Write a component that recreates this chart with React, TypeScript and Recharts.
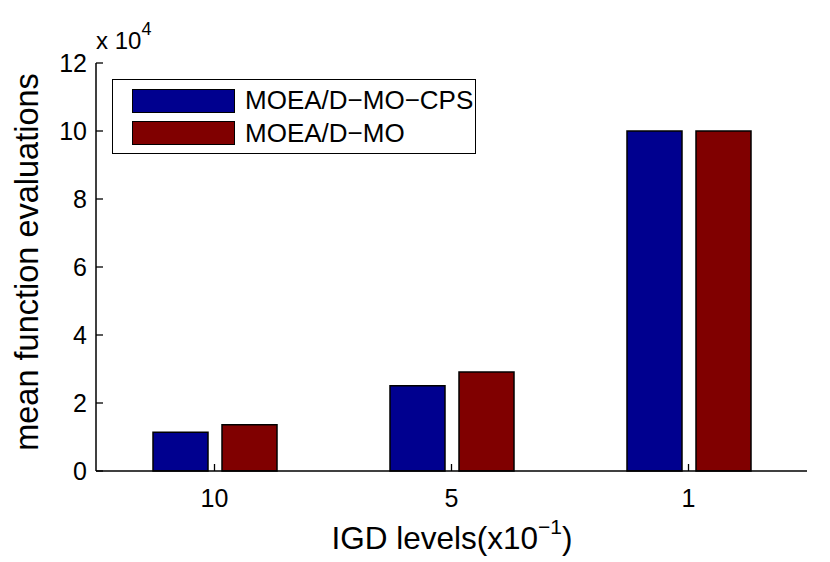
import React from "react";
import { BarChart, Bar, XAxis, YAxis, Legend, Label } from "recharts";

const levels = ["10", "5", "1"];
const cpsValues = [11400, 25100, 100000];
const moValues = [13600, 29100, 100000];
const yTicks = [0, 20000, 40000, 60000, 80000, 100000, 120000];
const seriesNames = ["MOEA/D-MO-CPS", "MOEA/D-MO"];
const seriesColors = ["#00008F", "#800000"];

const data = levels.map((level, i) => ({ level, cps: cpsValues[i], mo: moValues[i] }));

const FONT = "'Liberation Sans', Arial, Helvetica, sans-serif";
const TICK_LEN = 7;

const LeftTick = (props: any) => {
  const { x, y, payload } = props;
  return (
    <g>
      <line x1={x} x2={x + TICK_LEN} y1={y} y2={y} stroke="#000" strokeWidth={1.3} />
      <text x={x - 9} y={y} dy={9} textAnchor="end" fontSize={25} fontFamily={FONT} fill="#000">
        {String(payload.value / 10000)}
      </text>
    </g>
  );
};

const RightTick = (props: any) => {
  const { x, y } = props;
  return <line x1={x} x2={x - TICK_LEN} y1={y} y2={y} stroke="#000" strokeWidth={1.3} />;
};

const BottomTick = (props: any) => {
  const { x, y, payload } = props;
  return (
    <g>
      <line x1={x} x2={x} y1={y} y2={y - TICK_LEN} stroke="#000" strokeWidth={1.3} />
      <text x={x} y={y + 36} textAnchor="middle" fontSize={25} fontFamily={FONT} fill="#000">
        {payload.value}
      </text>
    </g>
  );
};

const TopTick = (props: any) => {
  const { x, y } = props;
  return <line x1={x} x2={x} y1={y} y2={y + TICK_LEN} stroke="#000" strokeWidth={1.3} />;
};

const LegendBox = () => (
  <div
    style={{
      width: 362,
      height: 73,
      border: "1.5px solid #000",
      background: "#fff",
      position: "relative",
      fontFamily: FONT,
      boxSizing: "content-box",
    }}
  >
    {seriesNames.map((name, i) => (
      <div key={name} style={{ position: "absolute", left: 19, top: 8 + i * 32.5, display: "flex", alignItems: "center" }}>
        <div
          style={{
            width: 101,
            height: 22,
            background: seriesColors[i],
            border: "1.5px solid #000",
            boxSizing: "content-box",
          }}
        />
        <span style={{ marginLeft: 10, fontSize: 26, lineHeight: "25px", color: "#000", whiteSpace: "nowrap" }}>
          {name.replace(/-/g, "\u2212")}
        </span>
      </div>
    ))}
  </div>
);

export default function App() {
  return (
    <div style={{ position: "absolute", left: 0, top: 0, width: 830, height: 562, background: "#fff" }}>
      <BarChart
        width={830}
        height={562}
        data={data}
        margin={{ top: 63, right: 23, bottom: 0, left: 0 }}
        barSize={55}
        barGap={14}
      >
        <XAxis
          dataKey="level"
          type="category"
          height={91}
          tickSize={0}
          tickMargin={0}
          tickLine={false}
          axisLine={{ stroke: "#000", strokeWidth: 1.5 }}
          tick={<BottomTick />}
          interval={0}
        >
          <Label
            content={() => (
              <text x={452} y={549} textAnchor="middle" fontSize={31.5} fontFamily={FONT} fill="#000">
                IGD levels(x10
                <tspan fontSize={21} dy={-15}>{"\u22121"}</tspan>
                <tspan dy={15}>)</tspan>
              </text>
            )}
          />
        </XAxis>
        <XAxis
          xAxisId="top"
          dataKey="level"
          type="category"
          orientation="top"
          height={0}
          tickSize={0}
          tickMargin={0}
          tickLine={false}
          axisLine={{ stroke: "#000", strokeWidth: 1.5 }}
          tick={<TopTick />}
          interval={0}
        />
        <YAxis
          width={96}
          type="number"
          domain={[0, 120000]}
          ticks={yTicks}
          tickSize={0}
          tickMargin={0}
          tickLine={false}
          axisLine={{ stroke: "#000", strokeWidth: 1.5 }}
          tick={<LeftTick />}
          interval={0}
        >
          <Label
            content={() => (
              <g>
                <text
                  x={38}
                  y={262}
                  transform="rotate(-90, 38, 262)"
                  textAnchor="middle"
                  fontSize={32.5}
                  fontFamily={FONT}
                  fill="#000"
                >
                  mean function evaluations
                </text>
                <text x={96} y={49} fontSize={24} fontFamily={FONT} fill="#000">
                  x 10
                  <tspan fontSize={18} dy={-14}>4</tspan>
                </text>
              </g>
            )}
          />
        </YAxis>
        <YAxis
          yAxisId="right"
          orientation="right"
          width={0}
          type="number"
          domain={[0, 120000]}
          ticks={yTicks}
          tickSize={0}
          tickMargin={0}
          tickLine={false}
          axisLine={{ stroke: "#000", strokeWidth: 1.5 }}
          tick={<RightTick />}
          interval={0}
        />
        <Legend
          layout="vertical"
          align="center"
          verticalAlign="middle"
          wrapperStyle={{ position: "absolute", left: 112, top: 79, width: 365, height: 76 }}
          content={() => <LegendBox />}
        />
        <Bar dataKey="cps" name={seriesNames[0]} fill={seriesColors[0]} stroke="#000" strokeWidth={1.5} isAnimationActive={false} />
        <Bar dataKey="mo" name={seriesNames[1]} fill={seriesColors[1]} stroke="#000" strokeWidth={1.5} isAnimationActive={false} />
      </BarChart>
    </div>
  );
}
